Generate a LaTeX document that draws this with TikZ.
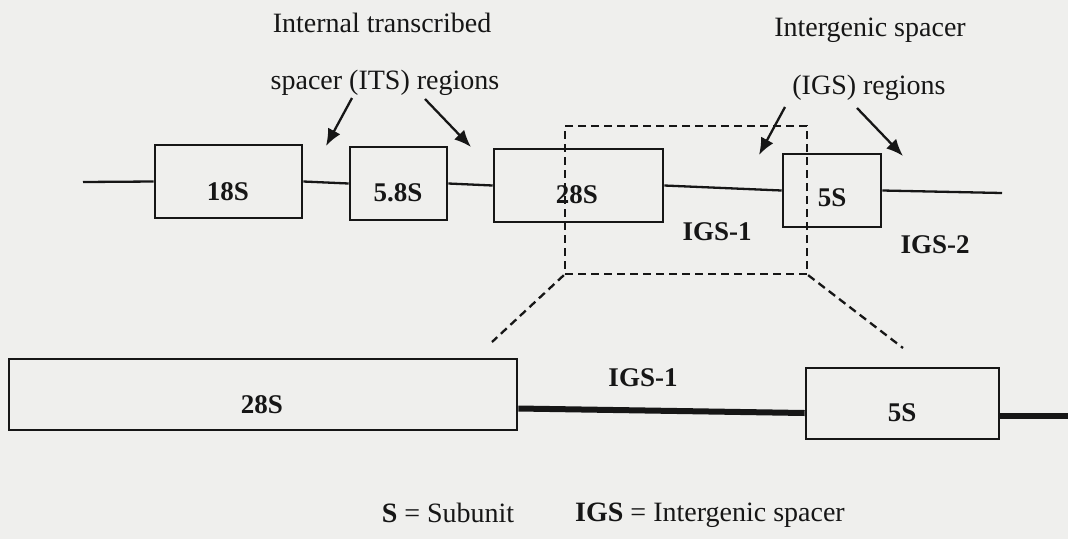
\documentclass[tikz,border=0pt]{standalone}
\usepackage{fontspec}
\setmainfont{Liberation Serif}
\usetikzlibrary{arrows.meta}
\definecolor{bgc}{RGB}{239,239,237}
\definecolor{ink}{RGB}{22,22,22}
\tikzset{
  gene/.style={draw=ink, line width=2.6pt, inner sep=0pt, fill=none},
  glabel/.style={font=\fontsize{27}{29}\selectfont\bfseries, text=ink, inner sep=0pt},
  note/.style={font=\fontsize{28}{30}\selectfont, text=ink, inner sep=0pt},
  thin/.style={draw=ink, line width=2.3pt},
  thick/.style={draw=ink, line width=6pt},
  zoomline/.style={draw=ink, line width=2.3pt, dash pattern=on 8pt off 5pt},
  pointer/.style={draw=ink, line width=2.3pt, -{Latex[length=17pt,width=14pt]}}
}
\begin{document}
\begin{tikzpicture}[x=1pt,y=-1pt]
\fill[bgc] (0,0) rectangle (1068,539);
\useasboundingbox (0,0) rectangle (1068,539);

% top gene map
\coordinate (lstart) at (83,182);
\coordinate (rend) at (1002,193);
\node[gene, minimum width=147pt, minimum height=73pt] (b18) at (228.5,181.5) {};
\node[gene, minimum width=97pt, minimum height=73pt] (b58) at (398.5,183.5) {};
\node[gene, minimum width=169pt, minimum height=73pt] (b28) at (578.5,185.5) {};
\node[gene, minimum width=98pt, minimum height=73pt] (b5) at (832,190.5) {};
\draw[thin] (lstart) -- (b18.west);
\draw[thin] (b18.east) -- (b58.west);
\draw[thin] (b58.east) -- (b28.west);
\draw[thin] (b28.east) -- (b5.west);
\draw[thin] (b5.east) -- (rend);
\node[glabel] (l18) at (228,192) {18S};
\node[glabel] (l58) at (398,193) {5.8S};
\node[glabel] (l28) at (577,195) {28S};
\node[glabel] (l5) at (832,198) {5S};
\node[glabel] (igs1) at (717,232) {IGS-1};
\node[glabel] (igs2) at (935,245) {IGS-2};

% zoom box
\node[zoomline, minimum width=242pt, minimum height=148pt, inner sep=0pt] (zb) at (686,200) {};
\coordinate (zl) at (492,342);
\coordinate (zr) at (903,348);
\draw[zoomline] (zb.south west) -- (zl);
\draw[zoomline] (zb.south east) -- (zr);

% annotations
\node[note] (its1) at (382,23) {Internal transcribed};
\node[note] (its2) at (385,83) {spacer (ITS) regions};
\node[note] (igsA) at (870,30) {Intergenic spacer};
\node[note] (igsB) at (869,88) {(IGS) regions};
\coordinate (a1s) at (352,98);  \coordinate (a1t) at (326,146);
\coordinate (a2s) at (425,99);  \coordinate (a2t) at (471,147);
\coordinate (a3s) at (785,107); \coordinate (a3t) at (759,155);
\coordinate (a4s) at (857,108); \coordinate (a4t) at (903,156);
\draw[pointer] (a1s) -- (a1t);
\draw[pointer] (a2s) -- (a2t);
\draw[pointer] (a3s) -- (a3t);
\draw[pointer] (a4s) -- (a4t);

% enlarged region
\node[gene, minimum width=508pt, minimum height=71pt] (B28) at (263,394.5) {};
\node[gene, minimum width=193pt, minimum height=71pt] (B5) at (902.5,403.5) {};
\coordinate (bend) at (1068,416);
\draw[thick] ([yshift=-14pt]B28.east) -- ([yshift=-9.5pt]B5.west);
\draw[thick] ([yshift=-12.5pt]B5.east) -- (bend);
\node[glabel] (L28) at (262,405) {28S};
\node[glabel] (L5) at (902,413) {5S};
\node[glabel] (IGS1) at (643,378) {IGS-1};

% legend
\node[note] (leg1) at (448,513) {\textbf{S} = Subunit};
\node[note] (leg2) at (710,515) {\textbf{IGS} = Intergenic spacer};
\end{tikzpicture}
\end{document}
